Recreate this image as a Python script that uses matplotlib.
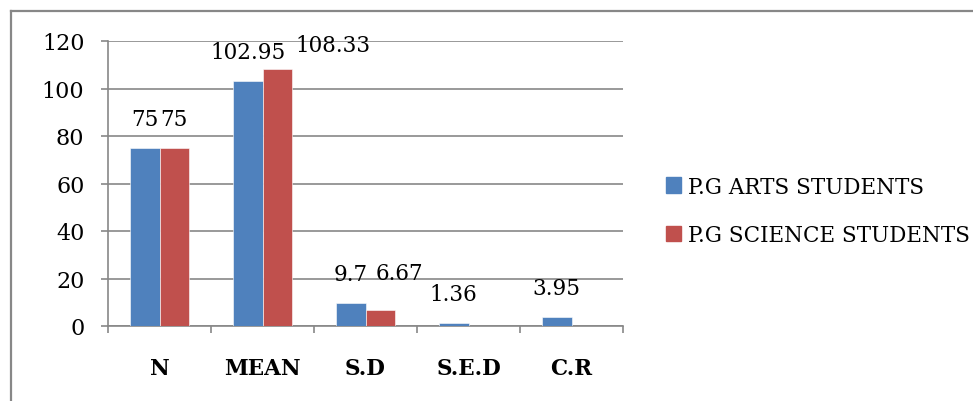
import numpy as np
import matplotlib
matplotlib.use("Agg")
import matplotlib.pyplot as plt
from matplotlib.lines import Line2D
from matplotlib.patches import Rectangle

categories = ["N", "MEAN", "S.D", "S.E.D", "C.R"]
arts = [75, 102.95, 9.7, 1.36, 3.95]
science = [75, 108.33, 6.67, np.nan, np.nan]
arts_labels = ["75", "102.95", "9.7", "1.36", "3.95"]
science_labels = ["75", "108.33", "6.67", None, None]

BLUE = "#4F81BD"
RED = "#C0504D"
GRAY = "#878787"
FS = 15.5

# label offsets (points) where the original pushes labels aside to avoid overlap
arts_off = [(0, 13), (0, 13), (0, 13), (0, 13), (0, 13)]
sci_off = [(0, 13), (40, 9), (14, 19), (0, 13), (0, 13)]


def main() -> None:
    plt.rcParams["font.family"] = ["DejaVu Serif"]
    fig = plt.figure(figsize=(9.73, 4.02), dpi=100)
    ax = fig.add_axes([108 / 973, 75 / 402, 515 / 973, 285 / 402])

    x = np.arange(len(categories))
    w = 0.286
    b1 = ax.bar(x - w / 2, arts, w, color=BLUE, edgecolor="white", linewidth=0.4,
                label="P.G ARTS STUDENTS", zorder=3)
    b2 = ax.bar(x + w / 2, science, w, color=RED, edgecolor="white", linewidth=0.4,
                label="P.G SCIENCE STUDENTS", zorder=3)

    for rect, val, lab, off in zip(b1, arts, arts_labels, arts_off):
        ax.annotate(lab, (rect.get_x() + rect.get_width() / 2, val), xytext=off,
                    textcoords="offset points", ha="center", va="bottom", fontsize=FS)
    for rect, val, lab, off in zip(b2, science, science_labels, sci_off):
        if lab is None:
            continue
        ax.annotate(lab, (rect.get_x() + rect.get_width() / 2, val), xytext=off,
                    textcoords="offset points", ha="center", va="bottom", fontsize=FS)

    ax.set_xlim(-0.5, len(categories) - 0.5)
    ax.set_ylim(0, 120)
    ax.set_yticks(np.arange(0, 121, 20))
    ax.yaxis.grid(True, color=GRAY, linewidth=1.2, zorder=0)
    ax.set_axisbelow(True)
    for s in ["top", "right"]:
        ax.spines[s].set_visible(False)
    for s in ["left", "bottom"]:
        ax.spines[s].set_color(GRAY)
        ax.spines[s].set_linewidth(1.2)
    ax.tick_params(axis="y", length=5, width=1.2, color=GRAY, pad=12, labelsize=16)

    # category boundaries get the tick marks, names sit between them
    ax.set_xticks(np.arange(len(categories) + 1) - 0.5)
    ax.set_xticklabels([])
    ax.set_xticks(x, minor=True)
    ax.set_xticklabels(categories, minor=True, fontweight="bold", fontsize=FS)
    ax.tick_params(axis="x", which="major", length=5, width=1.2, color=GRAY)
    ax.tick_params(axis="x", which="minor", length=0, pad=22)

    handles = [Rectangle((0, 0), 1, 1, color=BLUE), Rectangle((0, 0), 1, 1, color=RED)]
    fig.legend(handles, ["P.G ARTS STUDENTS", "P.G SCIENCE STUDENTS"],
               loc="center left", bbox_to_anchor=(655 / 973, 1 - 212 / 402),
               frameon=False, fontsize=FS, handlelength=0.7, handleheight=0.7,
               handletextpad=0.35, labelspacing=1.25, borderpad=0)

    # outer chart frame (left and top edges only visible)
    fig.add_artist(Line2D([10.5 / 973, 10.5 / 973], [0, 1 - 12 / 402],
                          transform=fig.transFigure, color=GRAY, linewidth=1.6))
    fig.add_artist(Line2D([10.5 / 973, 1], [1 - 12 / 402, 1 - 12 / 402],
                          transform=fig.transFigure, color=GRAY, linewidth=1.6))

    fig.savefig("out.png", dpi=100)


if __name__ == "__main__":
    main()
